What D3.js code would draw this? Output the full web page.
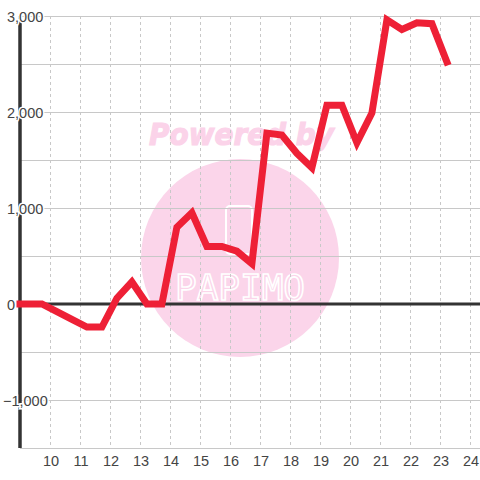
<!DOCTYPE html>
<html>
<head>
<meta charset="utf-8">
<script src="https://cdn.jsdelivr.net/npm/d3@7"></script>
<style>
  body { margin: 0; background: #fff; }
  svg { display: block; }
</style>
</head>
<body>
<svg id="chart" width="480" height="480"></svg>
<script>
// hours of the day (x) and running total (y)
const hours = [9, 9.73, 10.23, 10.73, 11.23, 11.73, 12.23, 12.73, 13.23, 13.73,
  14.23, 14.73, 15.23, 15.73, 16.23, 16.73, 17.23, 17.73, 18.23, 18.73,
  19.23, 19.73, 20.23, 20.73, 21.23, 21.73, 22.23, 22.73, 23.23];
const totals = [0, 0, -80, -160, -240, -240, 60, 230, 0, 0,
  800, 950, 600, 600, 550, 420, 1780, 1760, 1570, 1420,
  2070, 2070, 1680, 1990, 2960, 2860, 2930, 2920, 2520];
const xTicks = [10, 11, 12, 13, 14, 15, 16, 17, 18, 19, 20, 21, 22, 23, 24];
const yTicks = [-1000, 0, 1000, 2000, 3000];
const yGrid = [-1500, -1000, -500, 500, 1000, 1500, 2000, 2500, 3000];

const svg = d3.select('#chart');
const x = d3.scaleLinear().domain([9, 24]).range([20, 470]);
const y = d3.scaleLinear().domain([-1500, 3000]).range([448, 16]);

// watermark
const wm = svg.append('g');
wm.append('circle')
  .attr('cx', 240).attr('cy', 258).attr('r', 99)
  .style('fill', '#fbd5ea');
wm.append('text')
  .attr('x', 149).attr('y', 145)
  .attr('textLength', 185).attr('lengthAdjust', 'spacingAndGlyphs')
  .style('font-family', 'DejaVu Sans')
  .style('font-weight', 'bold')
  .style('font-style', 'italic')
  .style('font-size', '31px')
  .style('fill', '#fbd3e9')
  .style('stroke', '#fbd3e9')
  .style('stroke-width', 1.2)
  .text('Powered by');
wm.append('rect')
  .attr('x', 226).attr('y', 206).attr('width', 26).attr('height', 48).attr('rx', 4)
  .style('fill', 'none').style('stroke', '#fff').style('stroke-width', 2);
wm.append('text')
  .attr('x', 240).attr('y', 300)
  .attr('text-anchor', 'middle')
  .attr('textLength', 130).attr('lengthAdjust', 'spacingAndGlyphs')
  .style('font-family', 'DejaVu Sans Mono')
  .style('font-size', '36px')
  .style('fill', 'none')
  .style('stroke', '#fff')
  .style('stroke-width', 1.6)
  .text('PAPIMO');

// grid
const grid = svg.append('g');
grid.selectAll('.hg').data(yGrid).join('line')
  .attr('x1', 20).attr('x2', 480)
  .attr('y1', d => y(d) + 0.5).attr('y2', d => y(d) + 0.5)
  .style('stroke', '#c8c8c8');
grid.selectAll('.vg').data(xTicks).join('line')
  .attr('x1', d => x(d) + 0.5).attr('x2', d => x(d) + 0.5)
  .attr('y1', 16).attr('y2', 446)
  .style('stroke', '#c8c8c8')
  .style('stroke-dasharray', '3,3');

// zero line
svg.append('line')
  .attr('x1', 20).attr('x2', 480)
  .attr('y1', y(0)).attr('y2', y(0))
  .style('stroke', '#333').style('stroke-width', 3);

// y axis
const yAxis = svg.append('g')
  .attr('transform', 'translate(20,0)')
  .call(d3.axisLeft(y).tickValues(yTicks).tickFormat(d3.format(',')).tickSize(0));
yAxis.select('.domain').remove();
svg.append('line')
  .attr('x1', 20).attr('x2', 20).attr('y1', 16).attr('y2', 448)
  .style('stroke', '#333').style('stroke-width', 3.5);
yAxis.raise();
yAxis.selectAll('text')
  .attr('x', d => (d < 0 ? -17 : -13))
  .attr('dy', '0.36em')
  .attr('text-anchor', 'start')
  .style('font-family', 'Liberation Sans')
  .style('font-size', '14.5px')
  .style('fill', '#444')
  .style('stroke', '#fff')
  .style('stroke-width', 3)
  .style('paint-order', 'stroke');

// x axis
const xAxis = svg.append('g')
  .attr('transform', 'translate(0,448)')
  .call(d3.axisBottom(x).tickValues(xTicks).tickSize(0));
xAxis.select('.domain').remove();
svg.append('line')
  .attr('x1', 20).attr('x2', 480).attr('y1', 448.5).attr('y2', 448.5)
  .style('stroke', '#c8c8c8');
xAxis.selectAll('text')
  .attr('x', 0.5)
  .attr('y', 18)
  .attr('dy', 0)
  .style('font-family', 'Liberation Sans')
  .style('font-size', '14.5px')
  .style('fill', '#444');

// series
const line = d3.line()
  .x((d, i) => x(hours[i]))
  .y(d => y(d));
svg.append('path')
  .datum(totals)
  .attr('d', line)
  .style('fill', 'none')
  .style('stroke', '#ee2036')
  .style('stroke-width', 7)
  .style('stroke-linejoin', 'miter')
  .style('stroke-linecap', 'square');
</script>
</body>
</html>
